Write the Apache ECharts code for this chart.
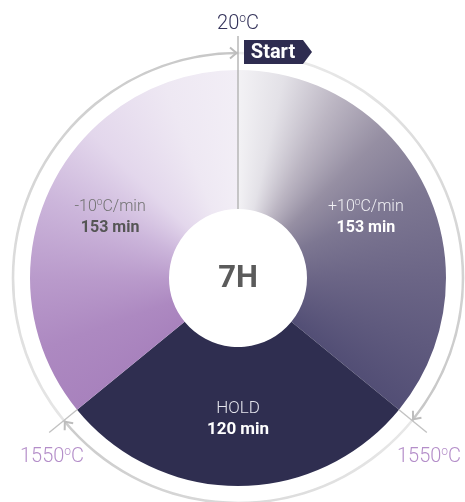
<!DOCTYPE html>
<html>
<head>
<meta charset="utf-8">
<script src="https://cdn.jsdelivr.net/npm/echarts@6/dist/echarts.min.js"></script>
<style>
html, body { margin: 0; padding: 0; background: #fff; }
#main { width: 465px; height: 502px; }
</style>
</head>
<body>
<div id="main"></div>
<script>
// firing cycle, clockwise from the top
const phaseNames = ['+10°C/min', 'HOLD', '-10°C/min'];
const phaseMinutes = [153, 120, 153];
const tempLabels = ['20°C', '1550°C', '1550°C'];
const totalLabel = '7H';
const startLabel = 'Start';

const W = 465, H = 502;
const CX = 238, CY = 278;
const R0 = 69, R1 = 208, RING = 225;
const FONT = "Roboto, 'Liberation Sans', sans-serif";

// colour stops along each slice, 0 = where the slice starts (clockwise)
const sliceStops = [
    [[0, '#f3f2f5'], [0.1, '#e3e1e7'], [0.22, '#bcb6c3'], [0.35, '#968fa3'], [0.5, '#7d7792'], [0.7, '#6b6586'], [1, '#524e75']],
    [[0, '#2f2e50'], [1, '#2f2e50']],
    [[0, '#a882bd'], [0.15, '#ad89c1'], [0.3, '#b99acb'], [0.48, '#ccb6db'], [0.65, '#e3d7ec'], [0.84, '#eee8f3'], [1, '#f2eef6']]
];
const ringStops = [
    [[0, '#eeeeee'], [1, '#c6c6c6']],
    [[0, '#e8e8e8'], [1, '#cbcbcb']],
    [[0, '#e6e6e6'], [1, '#c6c6c6']]
];
const labelColors = [
    ['#f0f0f4', '#ffffff'],
    ['#e4e4ec', '#ffffff'],
    ['#727272', '#555555']
];

const total = phaseMinutes.reduce((a, b) => a + b, 0);
const bounds = [];
let acc = 0;
phaseMinutes.forEach(v => { bounds.push(acc / total * 360); acc += v; });
bounds.push(360);

function conic(stops, a0, a1) {
    const c = document.createElement('canvas');
    c.width = W; c.height = H;
    const ctx = c.getContext('2d');
    const g = ctx.createConicGradient(-Math.PI / 2, CX, CY);
    stops.forEach(([t, col]) => g.addColorStop((a0 + t * (a1 - a0)) / 360, col));
    ctx.fillStyle = g;
    ctx.fillRect(0, 0, W, H);
    return { image: c, repeat: 'no-repeat' };
}

function pt(bearing, r) {
    const a = bearing * Math.PI / 180;
    return [CX + r * Math.sin(a), CY - r * Math.cos(a)];
}

// "20°C" -> rich text with a raised o
function degText(s, key) {
    const parts = s.split('°');
    return parts.map(p => p ? '{' + key + '|' + p + '}' : '').join('{' + key + 's|o}');
}

const rich = {};
labelColors.forEach((c, i) => {
    const big = i === 1 ? 17 : 16;
    rich['t' + i] = { fontFamily: FONT, fontSize: big, fontWeight: 300, color: c[0], lineHeight: 21 };
    rich['t' + i + 's'] = { fontFamily: FONT, fontSize: 10, fontWeight: 300, color: c[0], padding: [0, 0, 9, 0] };
    rich['b' + i] = { fontFamily: FONT, fontSize: big, fontWeight: 'bold', color: c[1], lineHeight: 21 };
});

const tempRich = {
    a: { fontFamily: FONT, fontSize: 20, fontWeight: 300, fill: '#34335a' },
    as: { fontFamily: FONT, fontSize: 12, fontWeight: 300, fill: '#34335a', padding: [0, 0, 10, 0] },
    p: { fontFamily: FONT, fontSize: 20, fontWeight: 300, fill: '#b48ec9' },
    ps: { fontFamily: FONT, fontSize: 12, fontWeight: 300, fill: '#b48ec9', padding: [0, 0, 10, 0] }
};

const graphics = [];
// radial dividers
const dividerIn = [R0, R1, R1];
const dividerOut = [242, 244, 244];
const dividerColor = ['#b2b2b2', '#c2c2c2', '#c2c2c2'];
for (let i = 0; i < 3; i++) {
    const a = pt(bounds[i], dividerIn[i]), b = pt(bounds[i], dividerOut[i]);
    graphics.push({
        type: 'line', z: 10,
        shape: { x1: a[0], y1: a[1], x2: b[0], y2: b[1] },
        style: { stroke: dividerColor[i], lineWidth: 1.4 }
    });
}
// arrow heads on the ring, pointing clockwise
for (let i = 0; i < 3; i++) {
    const b = bounds[i] * Math.PI / 180;
    const tip = pt(bounds[i], RING);
    const tx = Math.cos(b), ty = Math.sin(b);
    const nx = Math.sin(b), ny = -Math.cos(b);
    const L = 8, w = 5.5;
    graphics.push({
        type: 'polyline', z: 11,
        shape: { points: [
            [tip[0] - L * tx + w * nx, tip[1] - L * ty + w * ny],
            [tip[0] - 1.5 * tx, tip[1] - 1.5 * ty],
            [tip[0] - L * tx - w * nx, tip[1] - L * ty - w * ny]
        ] },
        style: { stroke: '#bdbdbd', lineWidth: 2, fill: null }
    });
}
// start tag
graphics.push({
    type: 'polygon', z: 12,
    shape: { points: [[244, 40], [303, 40], [312, 52], [303, 64], [244, 64]] },
    style: { fill: '#2e2c50' }
});
graphics.push({
    type: 'text', z: 13,
    style: { text: startLabel, x: 273, y: 53, align: 'center', verticalAlign: 'middle',
        fontFamily: FONT, fontSize: 20, fontWeight: 'bold', fill: '#ffffff' }
});
// temperatures
graphics.push({
    type: 'text', z: 13,
    style: { text: degText(tempLabels[0], 'a'), rich: tempRich, x: 238, y: 24, align: 'center', verticalAlign: 'middle' }
});
graphics.push({
    type: 'text', z: 13,
    style: { text: degText(tempLabels[1], 'p'), rich: tempRich, x: 52, y: 457, align: 'center', verticalAlign: 'middle' }
});
graphics.push({
    type: 'text', z: 13,
    style: { text: degText(tempLabels[2], 'p'), rich: tempRich, x: 429, y: 457, align: 'center', verticalAlign: 'middle' }
});
// total time in the hole
graphics.push({
    type: 'text', z: 13,
    style: { text: totalLabel, x: CX, y: CY + 1, align: 'center', verticalAlign: 'middle',
        fontFamily: FONT, fontSize: 31, fontWeight: 'bold', fill: '#5b5b5b' }
});

const chart = echarts.init(document.getElementById('main'), null, { renderer: 'canvas' });
chart.setOption({
    animation: false,
    series: [
        {
            type: 'pie',
            center: [CX, CY],
            radius: [RING - 1.3, RING + 1.3],
            startAngle: 90,
            silent: true,
            label: { show: false },
            labelLine: { show: false },
            data: phaseMinutes.map((v, i) => ({
                value: v, name: phaseNames[i],
                itemStyle: { color: conic(ringStops[i], bounds[i], bounds[i + 1]) }
            }))
        },
        {
            type: 'pie',
            center: [CX, CY],
            radius: [R0, R1],
            startAngle: 90,
            silent: true,
            label: {
                show: true,
                position: 'inside',
                rich: rich,
                formatter: p => degText(p.name, 't' + p.dataIndex) + '\n{b' + p.dataIndex + '|' + p.value + ' min}'
            },
            labelLine: { show: false },
            data: phaseMinutes.map((v, i) => ({
                value: v, name: phaseNames[i],
                itemStyle: { color: conic(sliceStops[i], bounds[i], bounds[i + 1]) }
            }))
        }
    ],
    graphic: graphics
});
</script>
</body>
</html>
